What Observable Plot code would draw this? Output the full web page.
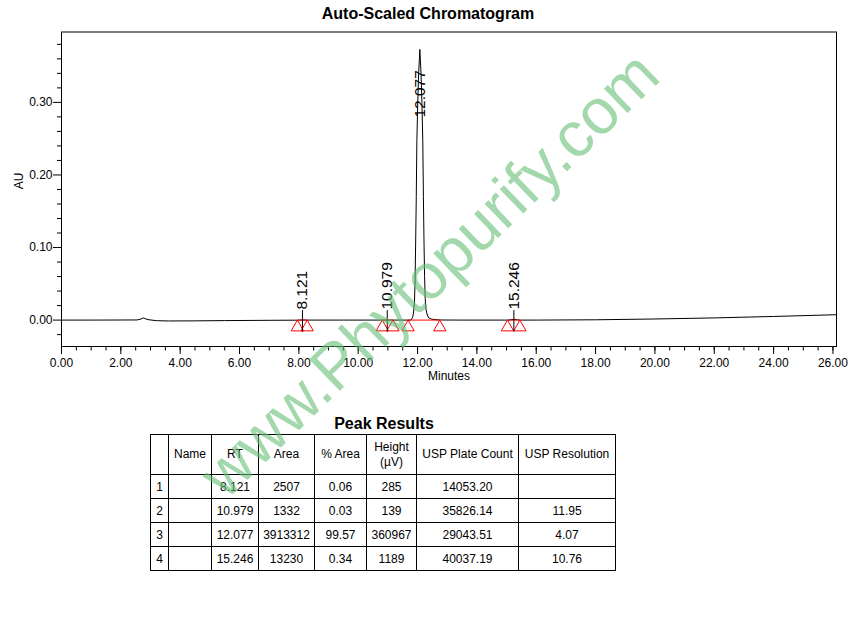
<!DOCTYPE html>
<html>
<head>
<meta charset="utf-8">
<script src="https://cdn.jsdelivr.net/npm/d3@7"></script>
<script src="https://cdn.jsdelivr.net/npm/@observablehq/plot@0.6"></script>
<style>
  body { margin: 0; background: #fff; font-family: "Liberation Sans", Arial, sans-serif; }
  #wrap { position: relative; width: 862px; height: 621px; background: #fff; overflow: hidden; }
  #title { position: absolute; left: 0; top: 6px; width: 856px; text-align: center; font-weight: bold; font-size: 16px; line-height: 16px; color: #000; }
  #chart { position: absolute; left: 0; top: 0; }
  #ptitle { position: absolute; left: 284px; top: 416px; width: 200px; text-align: center; font-weight: bold; font-size: 16px; line-height: 16px; color: #000; }
  #tbl { position: absolute; left: 150px; top: 434px; border-collapse: collapse; table-layout: fixed; font-size: 12px; color: #000; border: 1.5px solid #000; }
  #tbl td, #tbl th { border: 1px solid #000; padding: 0; text-align: center; font-weight: normal; white-space: nowrap; overflow: hidden; }
  #tbl th { height: 39px; line-height: 15px; }
  #tbl td { height: 23px; }
  #wm { position: absolute; left: 429px; top: 274px; transform: translate(-50%, -50%) rotate(-44deg); font-size: 64px; line-height: 1; white-space: nowrap; color: rgba(100, 190, 115, 0.6); pointer-events: none; font-family: "Liberation Sans", Arial, sans-serif; }
</style>
</head>
<body>
<div id="wrap">
  <div id="title">Auto-Scaled Chromatogram</div>
  <div id="chart"></div>
  <div id="ptitle">Peak Results</div>
  <table id="tbl"></table>
  <div id="wm">www.Phytopurify.com</div>
</div>
<script>
// ---- Chromatogram trace (minutes, AU) ----
const traceTime = [0, 1.0, 2.0, 2.55, 2.68, 2.76, 2.84, 2.95, 3.2, 3.6, 4.4, 5.5, 7.0, 7.95, 8.12, 8.28, 9.5, 10.81, 10.98, 11.17, 11.68, 11.777,
  11.837, 11.867, 11.897, 11.917, 11.937, 11.957, 11.977, 12.007, 12.037, 12.077, 12.117, 12.147, 12.177, 12.197, 12.217, 12.237, 12.257, 12.287, 12.327, 12.377, 12.477, 12.677, 12.827,
  13.5, 15.03, 15.15, 15.246, 15.35, 15.45, 16.0, 18.0, 20.0, 22.0, 24.0, 26.12];
const traceAU = [0.0000, 0.0000, 0.0001, 0.0002, 0.0015, 0.0030, 0.0016, 0.0004, -0.0008, -0.0012, -0.0011, -0.0007, -0.0003, -0.0001, 0.0002, 0.0000, 0.0000, 0.0000, 0.0001, 0.0000, 0.0000, 0.0000,
  0.0040, 0.0110, 0.0260, 0.0550, 0.1090, 0.1700, 0.2470, 0.3000, 0.3400, 0.3730, 0.3400, 0.3000, 0.2470, 0.1700, 0.1090, 0.0600, 0.0300, 0.0140, 0.0070, 0.0030, 0.0012, 0.0004, 0.0001,
  0.0000, 0.0000, 0.0004, 0.0012, 0.0004, 0.0000, 0.0000, 0.0004, 0.0015, 0.0030, 0.0050, 0.0074];

// ---- Peaks ----
const peakNum = [1, 2, 3, 4];
const peakName = ["", "", "", ""];
const peakRT = [8.121, 10.979, 12.077, 15.246];
const peakStart = [7.95, 10.81, 11.68, 15.03];
const peakEnd = [8.28, 11.17, 12.75, 15.45];
const peakArea = ["2507", "1332", "3913312", "13230"];
const peakPctArea = ["0.06", "0.03", "99.57", "0.34"];
const peakHeightUV = [285, 139, 360967, 1189];
const peakPlate = ["14053.20", "35826.14", "29043.51", "40037.19"];
const peakResolution = ["", "11.95", "4.07", "10.76"];
const baselineAU = 0;

// ---- Axes ----
const xDomain = [0, 26.12];
const yDomain = [-0.0364, 0.397];
const xMajorTicks = [0, 2, 4, 6, 8, 10, 12, 14, 16, 18, 20, 22, 24, 26];
const xMinorTicks = d3.range(0, 26.01, 0.5);
const yMajorTicks = [0, 0.1, 0.2, 0.3];
const yMinorTicks = [-0.02, 0.02, 0.04, 0.06, 0.08, 0.12, 0.14, 0.16, 0.18, 0.22, 0.24, 0.26, 0.28, 0.32, 0.34, 0.36, 0.38];
const tableHeaders = ["", "Name", "RT", "Area", "% Area", "Height<br>(\u00b5V)", "USP Plate Count", "USP Resolution"];
const colWidths = [18, 43, 47, 56, 52, 50, 102, 97];

const trace = traceTime.map((t, i) => ({t, au: traceAU[i]}));
const peaks = peakRT.map((rt, i) => ({
  rt, start: peakStart[i], end: peakEnd[i], h: peakHeightUV[i] / 1e6, label: rt.toFixed(3), big: peakHeightUV[i] > 100000
}));
const markers = peaks.flatMap(p => [{t: p.start}, {t: p.end}]);
const small = peaks.filter(p => !p.big);
const big = peaks.filter(p => p.big);
const font = '"Liberation Sans", Arial, sans-serif';

const chart = Plot.plot({
  width: 862,
  height: 392,
  marginLeft: 61,
  marginRight: 26,
  marginTop: 31.5,
  marginBottom: 46,
  style: {fontFamily: font, fontSize: "12px", background: "transparent", color: "#000", overflow: "visible"},
  x: {domain: xDomain, label: null},
  y: {domain: yDomain, label: null},
  marks: [
    Plot.axisY(yMinorTicks, {tickSize: 4, tickFormat: () => "", label: null}),
    Plot.axisY(yMajorTicks, {tickSize: 8, tickPadding: 1, tickFormat: d3.format(".2f"), label: null, fontSize: 12}),
    Plot.axisX(xMinorTicks, {tickSize: 4.5, tickFormat: () => "", label: null}),
    Plot.axisX(xMajorTicks, {tickSize: 8, tickPadding: 4, tickFormat: d3.format(".2f"), label: null, fontSize: 12}),
    Plot.line(trace, {x: "t", y: "au", stroke: "#000", strokeWidth: 1}),
    Plot.link(peaks, {x1: "start", x2: "end", y1: () => baselineAU, y2: () => baselineAU, stroke: "#ff0000", strokeWidth: 1}),
    Plot.dot(markers, {x: "t", y: () => baselineAU, symbol: "triangle", r: 4.6, dy: 7.2, stroke: "#ff0000", strokeWidth: 1, fill: "none"}),
    Plot.ruleX(small, {x: "rt", y1: () => baselineAU, y2: () => baselineAU, insetTop: -9.5, insetBottom: -12, stroke: "#000", strokeWidth: 1}),
    Plot.text(small, {x: "rt", y: () => baselineAU, text: "label", rotate: -90, textAnchor: "start", dy: -10.5, fontSize: 15.5, fill: "#000"}),
    Plot.text(big, {x: "rt", y: "h", text: "label", rotate: -90, textAnchor: "end", dy: 12, fontSize: 15.5, fill: "#000"}),
    Plot.text(["AU"], {frameAnchor: "left", dx: -42, rotate: -90, fontSize: 12, fill: "#000"}),
    Plot.text(["Minutes"], {frameAnchor: "bottom", dy: 33, fontSize: 12, fill: "#000"}),
    Plot.frame({stroke: "#000", strokeWidth: 1})
  ]
});
document.getElementById("chart").appendChild(chart);

// ---- table ----
const tbl = d3.select("#tbl");
const cg = tbl.append("colgroup");
colWidths.forEach(w => cg.append("col").style("width", w + "px"));
tbl.append("tr").selectAll("th").data(tableHeaders).join("th").html(d => d);
peakNum.forEach((n, i) => {
  const row = [n, peakName[i], peakRT[i].toFixed(3), peakArea[i], peakPctArea[i], String(peakHeightUV[i]), peakPlate[i], peakResolution[i]];
  tbl.append("tr").selectAll("td").data(row).join("td").text(d => d);
});
</script>
</body>
</html>
